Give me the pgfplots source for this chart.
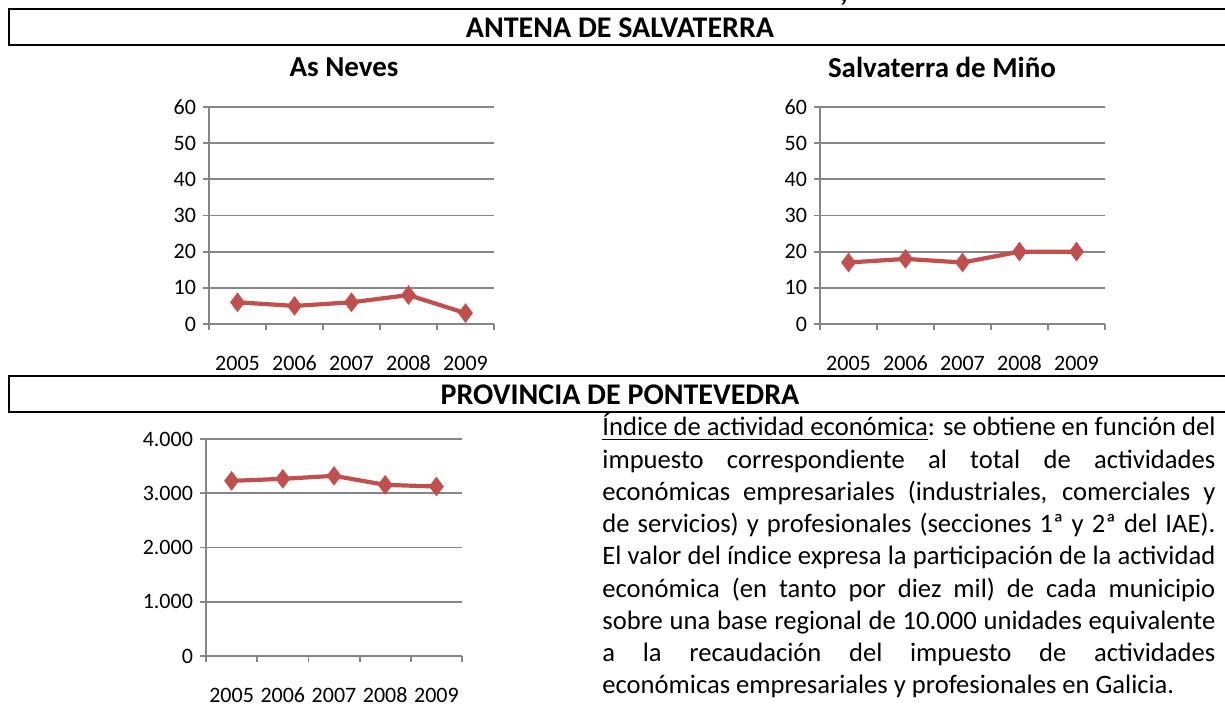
\documentclass[border=0pt]{standalone}
\usepackage{fontspec}
\setmainfont{Carlito}
\usepackage{pgfplots}
\pgfplotsset{compat=1.18}
\definecolor{serie}{HTML}{C0504D}
\definecolor{gridc}{HTML}{868686}
\pgfplotsset{minichart/.style={
  scale only axis, height=108.5pt,
  xmin=0.5, xmax=5.5,
  axis x line*=bottom, axis y line*=left,
  axis line style={gridc, line width=0.9pt, -},
  xtick={1,2,3,4,5}, xticklabels={2005,2006,2007,2008,2009},
  minor xtick={0.5,1.5,2.5,3.5,4.5,5.5},
  major x tick style={draw=none},
  minor x tick style={gridc, line width=0.9pt},
  y tick style={gridc, line width=0.9pt},
  tick align=outside, major tick length=3pt, minor tick length=3pt,
  ymajorgrids, major grid style={gridc, line width=0.9pt},
  tick label style={font=\fontsize{11}{13}\selectfont, text=black},
  xticklabel style={yshift=-9pt, text height=7.5pt, text depth=0pt},
  clip=false,
}}
\tikzset{datline/.style={serie, line width=2.1pt, mark=diamond*, mark size=3.2pt, mark options={solid, fill=serie, draw=serie}}}
\begin{document}
\begin{tikzpicture}
\path[use as bounding box] (0,0) rectangle (612.5pt,-352pt);
% cut-off comma at top
\node[font=\bfseries\fontsize{15}{18}\selectfont, anchor=base] at (422pt,-1pt) {,};
% box 1
\draw[line width=1.2pt] (620pt,-4.65pt) -- (4.5pt,-4.65pt) -- (4.5pt,-22.5pt) -- (620pt,-22.5pt);
\node[font=\bfseries\fontsize{15}{18}\selectfont] at (310pt,-14pt) {ANTENA DE SALVATERRA};
\node[font=\bfseries\fontsize{14.5}{17}\selectfont] at (172pt,-33.5pt) {As Neves};
\node[font=\bfseries\fontsize{14.5}{17}\selectfont] at (471pt,-33.5pt) {Salvaterra de Miño};
% chart As Neves
\begin{axis}[minichart, width=142.5pt, at={(104.5pt,-162pt)}, anchor=south west,
  ymin=0, ymax=60, ytick={0,10,20,30,40,50,60}, yticklabels={0,10,20,30,40,50,60}]
\addplot[datline] coordinates {(1,6) (2,5) (3,6) (4,8) (5,3)};
\end{axis}
% chart Salvaterra de Miño
\begin{axis}[minichart, width=142.5pt, at={(410pt,-162pt)}, anchor=south west,
  ymin=0, ymax=60, ytick={0,10,20,30,40,50,60}, yticklabels={0,10,20,30,40,50,60}]
\addplot[datline] coordinates {(1,17) (2,18) (3,17) (4,20) (5,20)};
\end{axis}
% box 2
\draw[line width=1.2pt] (620pt,-188pt) -- (4.5pt,-188pt) -- (4.5pt,-206pt) -- (620pt,-206pt);
\node[font=\bfseries\fontsize{15}{18}\selectfont] at (310pt,-197.5pt) {PROVINCIA DE PONTEVEDRA};
% chart Pontevedra
\begin{axis}[minichart, width=128pt, at={(103pt,-328pt)}, anchor=south west,
  ymin=0, ymax=4000, ytick={0,1000,2000,3000,4000}, yticklabels={0,1.000,2.000,3.000,4.000}]
\addplot[datline] coordinates {(1,3228) (2,3266) (3,3321) (4,3155) (5,3124)};
\end{axis}
% text
\begin{scope}[every node/.style={anchor=base west, inner sep=0pt, font=\fontsize{13.3}{16}\selectfont}]
\node at (301pt,-218pt) {\makebox[306.5pt][s]{\underline{Índice de actividad económica}: se obtiene en función del}};
\node at (301pt,-234.1pt) {\makebox[306.5pt][s]{impuesto correspondiente al total de actividades}};
\node at (301pt,-250.2pt) {\makebox[306.5pt][s]{económicas empresariales (industriales, comerciales y}};
\node at (301pt,-266.3pt) {\makebox[306.5pt][s]{de servicios) y profesionales (secciones 1ª y 2ª del IAE).}};
\node at (301pt,-282.4pt) {\makebox[306.5pt][s]{El valor del índice expresa la participación de la actividad}};
\node at (301pt,-298.5pt) {\makebox[306.5pt][s]{económica (en tanto por diez mil) de cada municipio}};
\node at (301pt,-314.6pt) {\makebox[306.5pt][s]{sobre una base regional de 10.000 unidades equivalente}};
\node at (301pt,-330.7pt) {\makebox[306.5pt][s]{a la recaudación del impuesto de actividades}};
\node at (301pt,-346.8pt) {económicas empresariales y profesionales en Galicia.};
\end{scope}
\end{tikzpicture}
\end{document}
